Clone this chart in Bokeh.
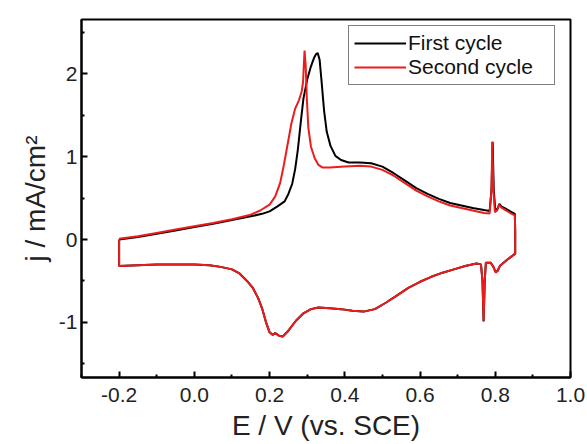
from bokeh.plotting import figure
from bokeh.models import Range1d, FixedTicker, Legend, LegendItem
from bokeh.embed import file_html
from bokeh.resources import INLINE

# ---- data ----
# First cycle: anodic sweep -0.2 -> 0.852 V, reversal, cathodic sweep back to -0.2 V
e_first = [-0.200, -0.150, -0.100, -0.050, 0.000, 0.050, 0.100, 0.150, 0.180, 0.200,
           0.221, 0.240, 0.250, 0.260, 0.268, 0.275, 0.283, 0.290, 0.300, 0.310,
           0.318, 0.324, 0.328, 0.333, 0.338, 0.345, 0.352, 0.362, 0.375, 0.390,
           0.410, 0.440, 0.470, 0.500, 0.530, 0.560, 0.590, 0.620, 0.650, 0.680,
           0.710, 0.740, 0.770, 0.785, 0.790, 0.793, 0.796, 0.800, 0.806, 0.811,
           0.816, 0.825, 0.840, 0.852, 0.853, 0.853,
           0.830, 0.812, 0.806, 0.801, 0.795, 0.788, 0.775, 0.772, 0.769, 0.766,
           0.762, 0.750, 0.720, 0.690, 0.660, 0.630, 0.600, 0.570, 0.540, 0.510,
           0.480, 0.450, 0.420, 0.390, 0.360, 0.330, 0.310, 0.290, 0.270, 0.250,
           0.235, 0.225, 0.215, 0.208, 0.200, 0.190, 0.180, 0.170, 0.155, 0.140,
           0.120, 0.100, 0.070, 0.040, 0.000, -0.050, -0.100, -0.150, -0.200, -0.200]
j_first = [0.00, 0.03, 0.07, 0.11, 0.15, 0.19, 0.235, 0.28, 0.31, 0.34,
           0.40, 0.46, 0.55, 0.67, 0.85, 1.08, 1.42, 1.70, 1.93, 2.09,
           2.19, 2.24, 2.25, 2.17, 1.92, 1.55, 1.30, 1.13, 1.01, 0.96,
           0.93, 0.93, 0.92, 0.88, 0.80, 0.71, 0.62, 0.55, 0.49, 0.44,
           0.41, 0.38, 0.355, 0.345, 0.60, 1.18, 0.60, 0.36, 0.37, 0.43,
           0.40, 0.38, 0.34, 0.31, 0.10, -0.17,
           -0.25, -0.32, -0.38, -0.39, -0.33, -0.28, -0.28, -0.50, -0.99, -0.50,
           -0.30, -0.29, -0.32, -0.36, -0.40, -0.45, -0.51, -0.58, -0.67, -0.76,
           -0.84, -0.87, -0.86, -0.84, -0.83, -0.82, -0.84, -0.89, -0.98, -1.10,
           -1.17, -1.16, -1.13, -1.15, -1.12, -0.99, -0.83, -0.71, -0.58, -0.50,
           -0.41, -0.36, -0.33, -0.31, -0.30, -0.30, -0.30, -0.31, -0.32, 0.00]

# Second cycle
e_second = [-0.200, -0.150, -0.100, -0.050, 0.000, 0.050, 0.100, 0.150, 0.175, 0.200,
            0.215, 0.228, 0.238, 0.248, 0.258, 0.268, 0.278, 0.285, 0.289, 0.291,
            0.293, 0.296, 0.299, 0.303, 0.310, 0.320, 0.330, 0.340, 0.360, 0.400,
            0.440, 0.470, 0.500, 0.530, 0.560, 0.590, 0.620, 0.650, 0.680, 0.710,
            0.740, 0.770, 0.785, 0.790, 0.792, 0.795, 0.799, 0.805, 0.810, 0.815,
            0.825, 0.840, 0.852, 0.853, 0.853,
            0.830, 0.812, 0.806, 0.801, 0.795, 0.788, 0.775, 0.772, 0.769, 0.766,
            0.762, 0.750, 0.720, 0.690, 0.660, 0.630, 0.600, 0.570, 0.540, 0.510,
            0.480, 0.450, 0.420, 0.390, 0.360, 0.330, 0.310, 0.290, 0.270, 0.250,
            0.235, 0.225, 0.215, 0.208, 0.200, 0.190, 0.180, 0.170, 0.155, 0.140,
            0.120, 0.100, 0.070, 0.040, 0.000, -0.050, -0.100, -0.150, -0.200, -0.200]
j_second = [0.01, 0.04, 0.08, 0.12, 0.16, 0.20, 0.245, 0.30, 0.35, 0.42,
            0.52, 0.68, 0.90, 1.15, 1.40, 1.58, 1.68, 1.78, 1.90, 2.10,
            2.28, 2.10, 1.70, 1.35, 1.12, 0.98, 0.90, 0.87, 0.87, 0.88,
            0.89, 0.88, 0.84, 0.77, 0.68, 0.59, 0.52, 0.46, 0.41, 0.38,
            0.35, 0.32, 0.315, 0.60, 1.18, 0.60, 0.33, 0.35, 0.42, 0.39,
            0.36, 0.32, 0.29, 0.10, -0.17,
            -0.25, -0.32, -0.38, -0.40, -0.33, -0.28, -0.28, -0.50, -0.98, -0.50,
            -0.30, -0.29, -0.32, -0.36, -0.40, -0.45, -0.51, -0.58, -0.67, -0.76,
            -0.84, -0.87, -0.86, -0.84, -0.83, -0.82, -0.84, -0.89, -0.98, -1.10,
            -1.17, -1.16, -1.13, -1.15, -1.12, -0.99, -0.83, -0.71, -0.58, -0.50,
            -0.41, -0.36, -0.33, -0.31, -0.30, -0.30, -0.30, -0.31, -0.32, 0.00]

x_major = [-0.2, 0.0, 0.2, 0.4, 0.6, 0.8, 1.0]
x_minor = [-0.3, -0.1, 0.1, 0.3, 0.5, 0.7, 0.9]
y_major = [-1, 0, 1, 2]
y_minor = [-1.5, -0.5, 0.5, 1.5, 2.5]
series_names = ["First cycle", "Second cycle"]

FONT = "Liberation Sans"

p = figure(width=587, height=444, output_backend="svg", toolbar_location=None,
           x_range=Range1d(-0.3, 1.0), y_range=Range1d(-1.665, 2.655),
           min_border_left=81, min_border_top=19, min_border_right=17, min_border_bottom=67)
p.xgrid.visible = False
p.ygrid.visible = False
p.background_fill_color = "white"
p.border_fill_color = "white"
p.outline_line_color = "black"
p.outline_line_width = 2

r1 = p.line(e_first, j_first, line_color="black", line_width=2)
r2 = p.line(e_second, j_second, line_color="#ec1c1c", line_width=2)

p.xaxis.ticker = FixedTicker(ticks=x_major, minor_ticks=x_minor)
p.yaxis.ticker = FixedTicker(ticks=y_major, minor_ticks=y_minor)
p.xaxis.major_label_overrides = {v: f"{v:.1f}" for v in x_major}
p.yaxis.major_label_overrides = {v: str(v) for v in y_major}

for ax in (p.xaxis[0], p.yaxis[0]):
    ax.axis_line_width = 2
    ax.axis_line_color = "black"
    ax.major_tick_in = 6
    ax.major_tick_out = 0
    ax.minor_tick_in = 3
    ax.minor_tick_out = 0
    ax.major_tick_line_width = 2
    ax.minor_tick_line_width = 2
    ax.major_label_text_font = FONT
    ax.major_label_text_font_size = "21px"
    ax.major_label_text_color = "#222222"
    ax.axis_label_text_font = FONT
    ax.axis_label_text_font_size = "28px"
    ax.axis_label_text_font_style = "normal"
    ax.axis_label_text_color = "#222222"

p.xaxis.axis_label = "E / V (vs. SCE)"
p.yaxis.axis_label = "j / mA/cm\u00b2"
p.xaxis.major_label_standoff = 10
p.xaxis.axis_label_standoff = 5
p.yaxis.major_label_standoff = 4
p.yaxis.axis_label_standoff = 5

legend = Legend(items=[LegendItem(label=series_names[0], renderers=[r1]),
                       LegendItem(label=series_names[1], renderers=[r2])],
                location=(267, 292))
legend.border_line_color = "black"
legend.border_line_width = 1.5
legend.background_fill_color = "white"
legend.background_fill_alpha = 1.0
legend.label_text_font = FONT
legend.label_text_font_size = "21px"
legend.label_text_color = "#111111"
legend.glyph_width = 52
legend.label_standoff = 2
legend.label_width = 141
legend.padding = 5
legend.spacing = 0
legend.margin = 0
p.add_layout(legend)

open("out.html", "w").write(file_html(p, INLINE))
